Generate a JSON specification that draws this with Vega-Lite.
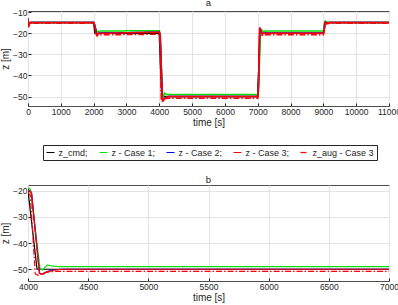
{
 "$schema": "https://vega.github.io/schema/vega-lite/v6.json",
 "padding": {"left": 0, "right": 0, "top": -3, "bottom": 0},
 "spacing": 13,
 "datasets": {
  "z": [
   {"t":0,"z":-15,"s":"z_cmd;"},{"t":2000,"z":-15,"s":"z_cmd;"},{"t":2040,"z":-20,"s":"z_cmd;"},{"t":4000,"z":-20,"s":"z_cmd;"},{"t":4075,"z":-50,"s":"z_cmd;"},{"t":7000,"z":-50,"s":"z_cmd;"},{"t":7075,"z":-20,"s":"z_cmd;"},{"t":9000,"z":-20,"s":"z_cmd;"},{"t":9040,"z":-15,"s":"z_cmd;"},{"t":11000,"z":-15,"s":"z_cmd;"},

   {"t":0,"z":-13.5,"s":"z - Case 1;"},{"t":20,"z":-16.5,"s":"z - Case 1;"},{"t":60,"z":-15,"s":"z - Case 1;"},{"t":2000,"z":-15,"s":"z - Case 1;"},{"t":2030,"z":-16,"s":"z - Case 1;"},{"t":2090,"z":-19,"s":"z - Case 1;"},{"t":2120,"z":-19.3,"s":"z - Case 1;"},{"t":2200,"z":-19,"s":"z - Case 1;"},{"t":4000,"z":-18.8,"s":"z - Case 1;"},{"t":4020,"z":-19.5,"s":"z - Case 1;"},{"t":4100,"z":-49.8,"s":"z - Case 1;"},{"t":4120,"z":-50.3,"s":"z - Case 1;"},{"t":4160,"z":-48.4,"s":"z - Case 1;"},{"t":4200,"z":-48.8,"s":"z - Case 1;"},{"t":4260,"z":-49,"s":"z - Case 1;"},{"t":7000,"z":-49,"s":"z - Case 1;"},{"t":7020,"z":-48,"s":"z - Case 1;"},{"t":7090,"z":-18.6,"s":"z - Case 1;"},{"t":7110,"z":-18.2,"s":"z - Case 1;"},{"t":7160,"z":-19.2,"s":"z - Case 1;"},{"t":7250,"z":-19,"s":"z - Case 1;"},{"t":9000,"z":-19,"s":"z - Case 1;"},{"t":9020,"z":-17.5,"s":"z - Case 1;"},{"t":9060,"z":-14.3,"s":"z - Case 1;"},{"t":9100,"z":-14.8,"s":"z - Case 1;"},{"t":9200,"z":-15,"s":"z - Case 1;"},{"t":11000,"z":-15,"s":"z - Case 1;"},

   {"t":0,"z":-13,"s":"z - Case 2;"},{"t":15,"z":-17,"s":"z - Case 2;"},{"t":50,"z":-15.3,"s":"z - Case 2;"},{"t":100,"z":-15,"s":"z - Case 2;"},{"t":2000,"z":-15,"s":"z - Case 2;"},{"t":2030,"z":-16,"s":"z - Case 2;"},{"t":2080,"z":-19.8,"s":"z - Case 2;"},{"t":2110,"z":-20.4,"s":"z - Case 2;"},{"t":2200,"z":-20,"s":"z - Case 2;"},{"t":4000,"z":-19.5,"s":"z - Case 2;"},{"t":4030,"z":-21,"s":"z - Case 2;"},{"t":4095,"z":-51.5,"s":"z - Case 2;"},{"t":4120,"z":-51.9,"s":"z - Case 2;"},{"t":4160,"z":-50.9,"s":"z - Case 2;"},{"t":4220,"z":-50.2,"s":"z - Case 2;"},{"t":4300,"z":-50,"s":"z - Case 2;"},{"t":7000,"z":-50,"s":"z - Case 2;"},{"t":7015,"z":-49.5,"s":"z - Case 2;"},{"t":7060,"z":-17.4,"s":"z - Case 2;"},{"t":7090,"z":-18.5,"s":"z - Case 2;"},{"t":7130,"z":-20.2,"s":"z - Case 2;"},{"t":7250,"z":-20,"s":"z - Case 2;"},{"t":9000,"z":-20,"s":"z - Case 2;"},{"t":9020,"z":-19,"s":"z - Case 2;"},{"t":9060,"z":-14.8,"s":"z - Case 2;"},{"t":9100,"z":-15.2,"s":"z - Case 2;"},{"t":9200,"z":-15,"s":"z - Case 2;"},{"t":11000,"z":-15,"s":"z - Case 2;"},

   {"t":0,"z":-13,"s":"z - Case 3;"},{"t":15,"z":-17,"s":"z - Case 3;"},{"t":50,"z":-15.3,"s":"z - Case 3;"},{"t":100,"z":-15,"s":"z - Case 3;"},{"t":2000,"z":-15,"s":"z - Case 3;"},{"t":2030,"z":-16,"s":"z - Case 3;"},{"t":2080,"z":-19.8,"s":"z - Case 3;"},{"t":2110,"z":-20.5,"s":"z - Case 3;"},{"t":2200,"z":-20.1,"s":"z - Case 3;"},{"t":4000,"z":-19.5,"s":"z - Case 3;"},{"t":4030,"z":-21,"s":"z - Case 3;"},{"t":4095,"z":-51.6,"s":"z - Case 3;"},{"t":4120,"z":-52,"s":"z - Case 3;"},{"t":4160,"z":-51,"s":"z - Case 3;"},{"t":4220,"z":-50.3,"s":"z - Case 3;"},{"t":4300,"z":-50,"s":"z - Case 3;"},{"t":7000,"z":-50,"s":"z - Case 3;"},{"t":7015,"z":-49.5,"s":"z - Case 3;"},{"t":7060,"z":-17.3,"s":"z - Case 3;"},{"t":7090,"z":-18.5,"s":"z - Case 3;"},{"t":7130,"z":-20.3,"s":"z - Case 3;"},{"t":7250,"z":-20,"s":"z - Case 3;"},{"t":9000,"z":-20,"s":"z - Case 3;"},{"t":9020,"z":-19,"s":"z - Case 3;"},{"t":9060,"z":-14.8,"s":"z - Case 3;"},{"t":9100,"z":-15.2,"s":"z - Case 3;"},{"t":9200,"z":-15,"s":"z - Case 3;"},{"t":11000,"z":-15,"s":"z - Case 3;"},

   {"t":0,"z":-14,"s":"z_aug - Case 3"},{"t":20,"z":-16.5,"s":"z_aug - Case 3"},{"t":60,"z":-15.3,"s":"z_aug - Case 3"},{"t":2000,"z":-15.3,"s":"z_aug - Case 3"},{"t":2030,"z":-16.5,"s":"z_aug - Case 3"},{"t":2070,"z":-20.3,"s":"z_aug - Case 3"},{"t":2100,"z":-21.3,"s":"z_aug - Case 3"},{"t":2200,"z":-20.8,"s":"z_aug - Case 3"},{"t":4000,"z":-20.5,"s":"z_aug - Case 3"},{"t":4020,"z":-22,"s":"z_aug - Case 3"},{"t":4060,"z":-51.8,"s":"z_aug - Case 3"},{"t":4085,"z":-52.3,"s":"z_aug - Case 3"},{"t":4130,"z":-51.3,"s":"z_aug - Case 3"},{"t":4200,"z":-50.9,"s":"z_aug - Case 3"},{"t":4300,"z":-50.8,"s":"z_aug - Case 3"},{"t":7000,"z":-50.8,"s":"z_aug - Case 3"},{"t":7015,"z":-50,"s":"z_aug - Case 3"},{"t":7060,"z":-18,"s":"z_aug - Case 3"},{"t":7090,"z":-19.5,"s":"z_aug - Case 3"},{"t":7130,"z":-21,"s":"z_aug - Case 3"},{"t":7250,"z":-20.8,"s":"z_aug - Case 3"},{"t":9000,"z":-20.8,"s":"z_aug - Case 3"},{"t":9020,"z":-19.5,"s":"z_aug - Case 3"},{"t":9060,"z":-15.3,"s":"z_aug - Case 3"},{"t":9100,"z":-15.6,"s":"z_aug - Case 3"},{"t":9200,"z":-15.3,"s":"z_aug - Case 3"},{"t":11000,"z":-15.3,"s":"z_aug - Case 3"}
  ]
 },
 "config": {
  "font": "Liberation Sans",
  "view": {"stroke": "#4d4d4d", "strokeWidth": 1},
  "title": {"fontSize": 9.5, "fontWeight": "normal", "color": "#262626", "offset": 1},
  "axis": {"labelFontSize": 8.5, "labelColor": "#262626", "titleFontSize": 10, "titleFontWeight": "normal", "titleColor": "#262626", "gridColor": "#e3e3e3", "domain": false, "tickColor": "#262626", "tickSize": -3, "labelPadding": 4, "titlePadding": 2, "labelFlush": false, "labelOverlap": false},
  "legend": {"direction": "horizontal", "columns": 5, "symbolType": "stroke", "symbolSize": 64, "symbolStrokeWidth": 1.2, "labelFontSize": 9, "labelColor": "#262626", "strokeColor": "#262626", "padding": 2.5, "columnPadding": 8, "labelOffset": 3}
 },
 "resolve": {"scale": {"x": "independent", "y": "independent", "color": "independent", "strokeDash": "independent"}},
 "vconcat": [
  {
   "title": "a",
   "width": 361, "height": 95,
   "data": {"name": "z"},
   "mark": {"type": "line", "strokeWidth": 1.5, "clip": true},
   "encoding": {
    "x": {"field": "t", "type": "quantitative", "scale": {"domain": [0, 11000], "nice": false}, "axis": {"values": [0,1000,2000,3000,4000,5000,6000,7000,8000,9000,10000,11000], "format": "d", "title": "time [s]"}},
    "y": {"field": "z", "type": "quantitative", "scale": {"domain": [-54.5, -9.5], "nice": false}, "axis": {"values": [-50,-40,-30,-20,-10], "title": "z [m]"}},
    "color": {"field": "s", "type": "nominal", "sort": null, "scale": {"domain": ["z_cmd;", "z - Case 1;", "z - Case 2;", "z - Case 3;", "z_aug - Case 3"], "range": ["#000000", "#00dd00", "#0000ff", "#ff0000", "#ff0000"]}, "legend": {"title": null, "orient": "none", "legendX": 15, "legendY": 134}},
    "strokeDash": {"field": "s", "type": "nominal", "sort": null, "scale": {"domain": ["z_cmd;", "z - Case 1;", "z - Case 2;", "z - Case 3;", "z_aug - Case 3"], "range": [[1,0],[1,0],[1,0],[1,0],[6,2,1.5,2]]}, "legend": {"title": null, "orient": "none", "legendX": 15, "legendY": 134}}
   }
  },
  {
   "title": "b",
   "width": 361, "height": 96,
   "data": {"name": "z"},
   "transform": [{"filter": "datum.t >= 4000 && datum.t <= 7000"}],
   "mark": {"type": "line", "strokeWidth": 1.2, "clip": true},
   "encoding": {
    "x": {"field": "t", "type": "quantitative", "scale": {"domain": [4000, 7000], "nice": false}, "axis": {"values": [4000,4500,5000,5500,6000,6500,7000], "format": "d", "title": "time [s]"}},
    "y": {"field": "z", "type": "quantitative", "scale": {"domain": [-54.5, -17.8], "nice": false}, "axis": {"values": [-50,-40,-30,-20], "title": "z [m]"}},
    "color": {"field": "s", "type": "nominal", "sort": null, "scale": {"domain": ["z_cmd;", "z - Case 1;", "z - Case 2;", "z - Case 3;", "z_aug - Case 3"], "range": ["#000000", "#00dd00", "#0000ff", "#ff0000", "#ff0000"]}, "legend": null},
    "strokeDash": {"field": "s", "type": "nominal", "sort": null, "scale": {"domain": ["z_cmd;", "z - Case 1;", "z - Case 2;", "z - Case 3;", "z_aug - Case 3"], "range": [[1,0],[1,0],[1,0],[1,0],[6,2,1.5,2]]}, "legend": null}
   }
  }
 ]
}
